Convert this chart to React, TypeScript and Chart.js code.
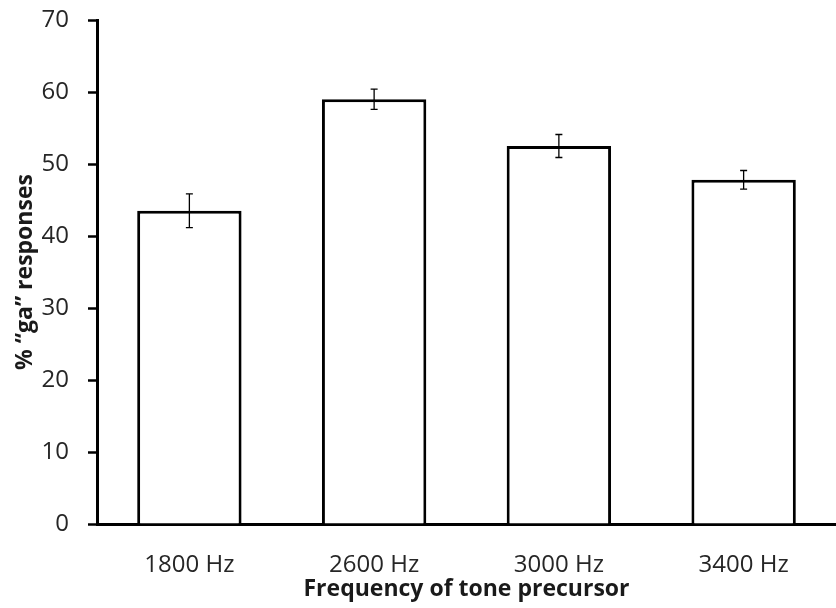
import React, { useEffect, useRef } from "react";
import { Chart, registerables } from "chart.js";

Chart.register(...registerables);

const categories = ["1800 Hz", "2600 Hz", "3000 Hz", "3400 Hz"];
const values = [43.5, 59.0, 52.5, 47.8];
const errors = [2.35, 1.4, 1.6, 1.3];
const yTicks = [0, 10, 20, 30, 40, 50, 60, 70];
const xTitle = "Frequency of tone precursor";
const yTitle = "% \u201Cga\u201D responses";

const errorBarPlugin = {
  id: "errorBars",
  afterDatasetsDraw(chart: any) {
    const ctx = chart.ctx;
    const yScale = chart.scales.y;
    const meta = chart.getDatasetMeta(0);
    ctx.save();
    ctx.strokeStyle = "#000";
    ctx.lineWidth = 1.3;
    meta.data.forEach((bar: any, i: number) => {
      const x = bar.x;
      const yHi = yScale.getPixelForValue(values[i] + errors[i]);
      const yLo = yScale.getPixelForValue(values[i] - errors[i]);
      const cap = 3.5;
      ctx.beginPath();
      ctx.moveTo(x, yHi);
      ctx.lineTo(x, yLo);
      ctx.moveTo(x - cap, yHi);
      ctx.lineTo(x + cap, yHi);
      ctx.moveTo(x - cap, yLo);
      ctx.lineTo(x + cap, yLo);
      ctx.stroke();
    });
    ctx.restore();
  },
};

export default function App() {
  const ref = useRef<HTMLCanvasElement>(null);
  useEffect(() => {
    if (!ref.current) return;
    const chart = new Chart(ref.current, {
      type: "bar",
      data: {
        labels: categories,
        datasets: [
          {
            data: values,
            backgroundColor: "#ffffff",
            borderColor: "#000000",
            borderWidth: 3,
            categoryPercentage: 1,
            barPercentage: 0.565,
          },
        ],
      },
      options: {
        responsive: false,
        animation: false,
        layout: { padding: { top: 20, right: 0, bottom: 0, left: 0 } },
        plugins: { legend: { display: false }, tooltip: { enabled: false } },
        scales: {
          x: {
            grid: { display: false },
            border: { display: true, color: "#000", width: 3 },
            ticks: {
              color: "#262626",
              font: { family: "'Open Sans'", size: 24 },
              padding: 19,
              maxRotation: 0,
            },
            title: {
              display: true,
              text: xTitle,
              color: "#1a1a1a",
              font: { family: "'Open Sans'", size: 23, weight: "bold" },
              padding: { top: 0, bottom: 5 },
            },
            afterFit: (s: any) => {
              s.height = 84;
              s.paddingLeft = 0;
              s.paddingRight = 0;
            },
          },
          y: {
            min: 0,
            max: 70,
            afterBuildTicks: (s: any) => {
              s.ticks = yTicks.map((v) => ({ value: v }));
            },
            grid: {
              drawOnChartArea: false,
              drawTicks: true,
              tickLength: 9,
              tickWidth: 2.5,
              tickColor: "#000",
            },
            border: { display: true, color: "#000", width: 3 },
            ticks: {
              color: "#262626",
              font: { family: "'Open Sans'", size: 24 },
              padding: 19,
            },
            title: {
              display: true,
              text: yTitle,
              color: "#1a1a1a",
              font: { family: "'Open Sans'", size: 23, weight: "bold" },
              padding: { top: 12, bottom: 0 },
            },
            afterFit: (s: any) => {
              s.width = 97;
              s.paddingTop = 0;
              s.paddingBottom = 0;
            },
          },
        },
      },
      plugins: [errorBarPlugin],
    });
    return () => chart.destroy();
  }, []);
  return (
    <div style={{ position: "fixed", left: 0, top: 0, width: 836, height: 608, background: "#fff" }}>
      <canvas ref={ref} width={836} height={608} style={{ display: "block" }} />
    </div>
  );
}
